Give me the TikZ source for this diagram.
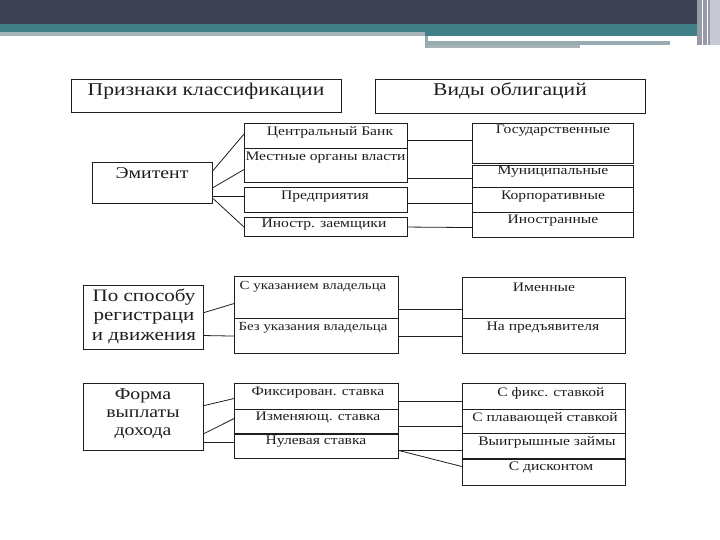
\documentclass[tikz,border=0pt]{standalone}
\usepackage{fontspec}
\setmainfont{Liberation Serif}[FakeStretch=1.2]
\definecolor{hdark}{RGB}{62,66,84}
\definecolor{hteal}{RGB}{66,126,134}
\definecolor{hgray}{RGB}{165,180,185}
\definecolor{hgray2}{RGB}{150,172,176}
\definecolor{hlav}{RGB}{200,200,214}
\definecolor{hstrip}{RGB}{150,155,170}
\definecolor{ink}{RGB}{30,30,30}
\begin{document}
\begin{tikzpicture}[x=1pt,y=-1pt,
  box/.style={draw=ink, line width=1.1pt, inner sep=0pt, anchor=north west},
  lbl/.style={inner sep=0pt, text=ink, font=\fontsize{13}{13}\selectfont},
  slbl/.style={inner sep=0pt, text=ink, font=\fontsize{12.4}{13}\selectfont},
  hlbl/.style={inner sep=0pt, text=ink, font=\fontsize{18}{20}\selectfont},
  mlbl/.style={inner sep=0pt, text=ink, align=center, font=\fontsize{17.5}{19.5}\selectfont},
  conn/.style={draw=ink, line width=0.8pt}]
\useasboundingbox (0,0) rectangle (720,540);
% header
\fill[hdark] (0,0) rectangle (697,24);
\fill[hteal] (0,24) rectangle (697,32);
\fill[hgray] (0,32) rectangle (425,36);
\fill[hteal] (425,32) rectangle (697,36);
\fill[hgray2] (428,41) rectangle (670,45);
\fill[hgray] (428,45) rectangle (580,48);
\fill[hgray2] (425,36) rectangle (428,48);
\fill[hstrip] (697,0) rectangle (710,45);
\fill[hlav] (710,0) rectangle (720,45);
\draw[white, line width=0.8pt] (702,0) -- (702,45) (707,0) -- (707,45);

% ---------- section 1 ----------
\node[box, minimum width=270pt, minimum height=33pt] (pk) at (71,79) {};
\node[hlbl] (tpk) at (206,91) {Признаки классификации};
\node[box, minimum width=270pt, minimum height=34pt] (vo) at (375,79) {};
\node[hlbl] (tvo) at (510,91) {Виды облигаций};

\node[box, minimum width=120pt, minimum height=41pt] (emit) at (92,162) {};
\node[hlbl, font=\fontsize{16.5}{18}\selectfont] (temit) at (152,173) {Эмитент};

\node[box, minimum width=163pt, minimum height=25pt] (cb) at (244,123) {};
\node[lbl] (tcb) at (330,132) {Центральный Банк};
\node[box, minimum width=163pt, minimum height=34pt] (loc) at (244,148) {};
\node[lbl] (tloc) at (325.5,158) {Местные органы власти};
\node[box, minimum width=163pt, minimum height=25pt] (pred) at (244,187) {};
\node[lbl] (tpred) at (325,197) {Предприятия};
\node[box, minimum width=163pt, minimum height=19pt] (inos) at (244,217) {};
\node[lbl] (tinos) at (324,225) {Иностр. заемщики};

\node[box, minimum width=161pt, minimum height=40pt] (gos) at (472,123) {};
\node[lbl] (tgos) at (553,131) {Государственные};
\node[box, minimum width=161pt, minimum height=22pt] (mun) at (472,165) {};
\node[lbl] (tmun) at (553,172) {Муниципальные};
\node[box, minimum width=161pt, minimum height=25pt] (korp) at (472,187) {};
\node[lbl] (tkorp) at (553,197) {Корпоративные};
\node[box, minimum width=161pt, minimum height=25pt] (inost) at (472,212) {};
\node[lbl] (tinost) at (553,221) {Иностранные};

\draw[conn] ([yshift=12.5pt]emit.east) -- ([yshift=2pt]cb.west);
\draw[conn] ([yshift=-4.5pt]emit.east) -- ([yshift=-4pt]loc.west);
\draw[conn] ([yshift=-13.5pt]emit.east) -- ([yshift=3.5pt]pred.west);
\draw[conn] ([yshift=-15.5pt]emit.east) -- (inos.west);

\draw[conn] ([yshift=-4.5pt]cb.east) -- ([yshift=3pt]gos.west);
\draw[conn] ([yshift=-13pt]loc.east) -- ([yshift=-2pt]mun.west);
\draw[conn] ([yshift=-3.5pt]pred.east) -- ([yshift=-3.5pt]korp.west);
\draw[conn] (inos.east) -- ([yshift=-2.5pt]inost.west);

% ---------- section 2 ----------
\node[box, minimum width=120pt, minimum height=64pt] (reg) at (83,285) {};
\node[mlbl] (treg) at (144,316) {По способу\\регистраци\\и движения};

\node[box, minimum width=164pt, minimum height=42pt] (own) at (234,276) {};
\node[slbl] (town) at (313,287) {С указанием владельца};
\node[box, minimum width=164pt, minimum height=35pt] (bear) at (234,318) {};
\node[slbl] (tbear) at (313,328) {Без указания владельца};

\node[box, minimum width=163pt, minimum height=41pt] (imen) at (462,277) {};
\node[lbl] (timen) at (544,287) {Именные};
\node[box, minimum width=163pt, minimum height=35pt] (pre2) at (462,318) {};
\node[lbl] (tpre2) at (543,328) {На предъявителя};

\draw[conn] ([yshift=5pt]reg.east) -- ([yshift=-6pt]own.west);
\draw[conn] ([yshift=-18pt]reg.east) -- (bear.west);
\draw[conn] ([yshift=-12pt]own.east) -- ([yshift=-11.5pt]imen.west);
\draw[conn] (bear.east) -- (pre2.west);

% ---------- section 3 ----------
\node[box, minimum width=120pt, minimum height=67pt] (form) at (83,383) {};
\node[mlbl, font=\fontsize{16.5}{18}\selectfont] (tform) at (143,414) {Форма\\выплаты\\дохода};

\node[box, minimum width=164pt, minimum height=26pt] (fix) at (234,383) {};
\node[lbl] (tfix) at (318,393) {Фиксирован. ставка};
\node[box, minimum width=164pt, minimum height=24pt] (var) at (234,409) {};
\node[lbl] (tvar) at (318,418) {Изменяющ. ставка};
\node[box, minimum width=164pt, minimum height=25pt] (zero) at (234,433) {};
\node[lbl] (tzero) at (316,442) {Нулевая ставка};
\draw[ink, line width=1.8pt] (var.south west) -- (var.south east);

\node[box, minimum width=163pt, minimum height=26pt] (sfix) at (462,383) {};
\node[lbl] (tsfix) at (551,393) {С фикс. ставкой};
\node[box, minimum width=163pt, minimum height=24pt] (sfl) at (462,409) {};
\node[lbl] (tsfl) at (545,418) {С плавающей ставкой};
\node[box, minimum width=163pt, minimum height=25pt] (win) at (462,433) {};
\node[lbl] (twin) at (547,442) {Выигрышные займы};
\node[box, minimum width=163pt, minimum height=27pt] (disc) at (462,458) {};
\node[lbl] (tdisc) at (551,467) {С дисконтом};
\draw[ink, line width=1.8pt] (win.south west) -- (win.south east);

\draw[conn] ([yshift=11.5pt]form.east) -- ([yshift=-2pt]fix.west);
\draw[conn] ([yshift=-16.5pt]form.east) -- ([yshift=3pt]var.west);
\draw[conn] ([yshift=-25.5pt]form.east) -- ([yshift=3.5pt]zero.west);

\draw[conn] ([yshift=-5pt]fix.east) -- ([yshift=-5pt]sfix.west);
\draw[conn] ([yshift=-5pt]var.east) -- ([yshift=-5pt]sfl.west);
\draw[conn] ([yshift=-4.5pt]zero.east) -- ([yshift=-4.5pt]win.west);
\draw[conn] ([yshift=-4.5pt]zero.east) -- ([yshift=5.5pt]disc.west);
\end{tikzpicture}
\end{document}
